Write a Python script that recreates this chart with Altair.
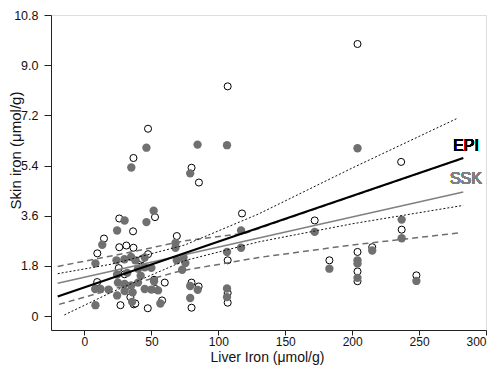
import altair as alt
import pandas as pd

# SSK (filled grey circles)
liver_ssk = [204, 106.5, 84.5, 46.3, 35, 79,
             237, 237, 172, 117, 117, 106.5, 183, 204, 204, 204, 215, 248, 106.5, 106.5, 79, 79, 84.6,
             30, 51.7, 46.3, 24.4, 13.3, 8.2, 68, 68, 34.8, 29.9, 23.9, 69, 75.4, 73, 74, 24.4,
             8, 12, 18, 24.4, 8.2, 35.6, 56.7, 50, 45, 55, 40, 45, 50, 40, 30, 35, 25, 42, 32, 38, 45, 30, 36, 52]
skin_ssk = [6.02, 6.13, 6.15, 6.04, 5.33, 5.12,
            3.46, 2.79, 3.02, 3.07, 2.45, 2.30, 1.70, 2.00, 1.88, 1.37, 2.35, 1.26, 0.99, 0.68, 1.08, 0.65, 0.94,
            3.43, 3.78, 3.37, 3.07, 2.56, 1.89, 2.62, 2.45, 2.12, 2.04, 2.00, 2.00, 1.90, 1.66, 2.10, 1.49,
            0.97, 0.97, 0.95, 0.74, 0.39, 0.51, 0.45, 0.95, 0.97, 0.92, 1.70, 1.75, 1.73, 1.20, 1.15, 1.10, 1.20,
            1.45, 1.55, 2.00, 2.10, 0.90, 0.85, 1.25]

# EPI (open circles)
liver_epi = [204, 107, 85.5, 47.5, 36.6, 80, 236.6, 237, 172, 117.7, 107, 183, 204, 204, 204, 215, 248,
             107, 107, 80, 80, 85.3,
             26, 52.7, 36.3, 14.6, 9.6, 26, 31.3, 36.6, 69, 47.5, 41.8, 25.6, 9.5, 26.9, 34.3, 31.9, 36.8,
             47.3, 58, 53, 38, 43, 52, 60, 30]
skin_epi = [9.76, 8.24, 4.79, 6.72, 5.67, 5.32, 5.53, 3.10, 3.43, 3.68, 2.00, 2.00, 2.30, 1.60, 1.25, 2.47, 1.46,
            0.83, 0.48, 1.20, 0.30, 1.06,
            3.50, 3.55, 3.04, 2.78, 2.25, 2.47, 2.53, 2.45, 2.87, 2.22, 2.00, 1.72, 1.22, 0.39, 0.68, 1.08, 0.42,
            0.28, 0.56, 0.97, 0.45, 2.05, 1.30, 1.20, 1.50]

# regression lines
fit_x = [-20, 283]
epi_fit = [0.70, 5.67]
ssk_fit = [1.18, 4.45]

# confidence bands
epi_ci_upper_x = [-20, 20, 75, 130, 200, 278]
epi_ci_upper = [1.52, 1.86, 2.55, 3.66, 5.31, 7.08]
epi_ci_lower_x = [-15, 20, 75, 130, 200, 283]
epi_ci_lower = [0.04, 0.85, 1.99, 2.66, 3.31, 3.97]
ssk_ci_upper_x = [-20, 30, 75, 120, 200, 283]
ssk_ci_upper = [1.78, 2.25, 2.70, 2.97, 4.30, 5.66]
ssk_ci_lower_x = [-19, 20, 72, 130, 200, 281]
ssk_ci_lower = [0.42, 0.95, 1.62, 2.10, 2.55, 2.99]

ssk_df = pd.DataFrame({"x": liver_ssk, "y": skin_ssk})
epi_df = pd.DataFrame({"x": liver_epi, "y": skin_epi})

def line_df(xs, ys, name):
    return pd.DataFrame({"x": xs, "y": ys, "s": name})

lines = pd.concat([
    line_df(fit_x, epi_fit, "epi_fit"),
    line_df(fit_x, ssk_fit, "ssk_fit"),
    line_df(epi_ci_upper_x, epi_ci_upper, "epi_up"),
    line_df(epi_ci_lower_x, epi_ci_lower, "epi_lo"),
    line_df(ssk_ci_upper_x, ssk_ci_upper, "ssk_up"),
    line_df(ssk_ci_lower_x, ssk_ci_lower, "ssk_lo"),
])

FONT = "Liberation Sans"
xscale = alt.Scale(domain=[-25, 300], nice=False, zero=False)
yscale = alt.Scale(domain=[-0.5, 10.8], nice=False, zero=False)

x_ticks = list(range(0, 301, 25))
y_ticks = [round(i * 0.9, 1) for i in range(13)]

x_axis = alt.Axis(
    values=x_ticks,
    labelExpr="datum.value % 50 == 0 ? datum.label : ''",
    tickSize={"condition": {"test": "datum.value % 50 == 0", "value": 5}, "value": 3},
    title="Liver Iron (μmol/g)",
    grid=False, domainColor="#222", tickColor="#222",
    labelFont=FONT, labelFontSize=12, labelColor="#111", labelPadding=1,
    titleFont=FONT, titleFontSize=14, titleFontWeight="normal", titleColor="#111",
    titleX=216, titleY=20.5, titleBaseline="top",
)
y_major = "abs(datum.value/1.8 - round(datum.value/1.8)) < 0.001"
y_axis = alt.Axis(
    values=y_ticks,
    labelExpr=f"{y_major} ? (datum.value == 0 ? '0' : format(datum.value, '.1f')) : ''",
    tickSize={"condition": {"test": y_major, "value": 7}, "value": 4},
    title="Skin iron (μmol/g)",
    grid=False, domainColor="#222", tickColor="#222",
    labelFont=FONT, labelFontSize=12.5, labelColor="#111", labelPadding=6,
    titleFont=FONT, titleFontSize=15, titleFontWeight="normal", titleColor="#111",
    titleX=-28, titleY=135,
)

base_x = alt.X("x:Q", scale=xscale, axis=x_axis)
base_y = alt.Y("y:Q", scale=yscale, axis=y_axis)

open_pts = alt.Chart(epi_df).mark_point(
    shape="circle", filled=True, fill="white", stroke="black", strokeWidth=1, size=50, opacity=1
).encode(x=base_x, y=base_y)

filled_pts = alt.Chart(ssk_df).mark_circle(color="#707070", size=70, opacity=1).encode(
    x=alt.X("x:Q", scale=xscale), y=alt.Y("y:Q", scale=yscale)
)

def line_layer(name, color, width, dash=None):
    kw = dict(color=color, strokeWidth=width)
    if dash:
        kw["strokeDash"] = dash
    return alt.Chart(lines).transform_filter(alt.datum.s == name).mark_line(**kw).encode(
        x=alt.X("x:Q", scale=xscale), y=alt.Y("y:Q", scale=yscale), order="x:Q"
    )

ssk_lo = line_layer("ssk_lo", "#6e6e6e", 1.5, [6, 4])
ssk_up = line_layer("ssk_up", "#6e6e6e", 1.5, [6, 4])
epi_lo = line_layer("epi_lo", "#111111", 1, [2, 2])
epi_up = line_layer("epi_up", "#111111", 1, [2, 2])
ssk_line = line_layer("ssk_fit", "#808080", 1.6)
epi_line = line_layer("epi_fit", "#000000", 2.2)

epi_label = alt.Chart(epi_df).mark_text(
    text="EPI", font=FONT, fontSize=16, color="#000", align="center", baseline="middle"
).encode(x=alt.datum(285), y=alt.datum(6.1))
ssk_label = alt.Chart(ssk_df).mark_text(
    text="SSK", font=FONT, fontSize=16, color="#808080", align="center", baseline="middle"
).encode(x=alt.datum(285), y=alt.datum(4.91))

chart = alt.layer(
    open_pts, filled_pts, ssk_lo, ssk_up, epi_lo, epi_up, ssk_line, epi_line, epi_label, ssk_label
).properties(
    width=435, height=315,
    autosize=alt.AutoSizeParams(type="none"),
    padding={"left": 43, "top": 7, "right": 6, "bottom": 36},
).configure_view(stroke="#888888", strokeWidth=1.5).configure(background="white")

chart.save("out.html", embed_options={"renderer": "svg", "actions": False})
